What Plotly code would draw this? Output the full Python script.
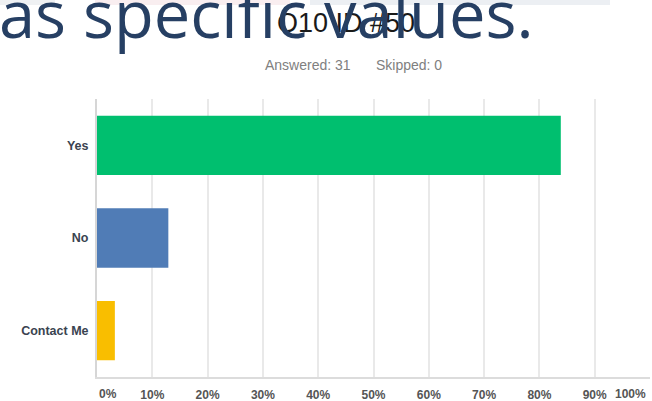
import plotly.graph_objects as go

categories = ["Yes", "No", "Contact Me"]
values = [83.87, 12.90, 3.23]
bar_colors = ["#00BF6F", "#507CB6", "#F9BE00"]
tick_values = [0, 10, 20, 30, 40, 50, 60, 70, 80, 90, 100]
tick_labels = ["0%", "10%", "20%", "30%", "40%", "50%", "60%", "70%", "80%", "90%", "100%"]
title_text = "Q10 ID #50"
answered_text = "Answered: 31"
skipped_text = "Skipped: 0"
overlay_text = "as specific values."

W, H = 652, 401
L, R, T, B = 97, 2, 99, 24
PW = W - L - R
PH = H - T - B


def px(x):
    return (x - L) / PW


def py(y):
    return (H - B - y) / PH


fig = go.Figure()
fig.add_trace(go.Bar(
    y=categories,
    x=values,
    orientation="h",
    marker=dict(color=bar_colors, line=dict(width=0)),
    hoverinfo="skip",
))

inner_text = ["" if v in (0, 100) else t for v, t in zip(tick_values, tick_labels)]
tick_font = dict(family="Liberation Sans", size=12, color="#555555", weight="bold")

fig.update_layout(
    width=W, height=H,
    margin=dict(l=L, r=R, t=T, b=B, autoexpand=False),
    paper_bgcolor="white",
    plot_bgcolor="white",
    showlegend=False,
    bargap=0.36,
    xaxis=dict(
        range=[0, 100],
        tickvals=tick_values,
        ticktext=inner_text,
        showgrid=True,
        gridcolor="#e9e9e9",
        gridwidth=1.5,
        zeroline=False,
        showline=True,
        linecolor="#dcdcdc",
        linewidth=2,
        ticks="",
        ticklabelstandoff=6,
        automargin=False,
        tickfont=tick_font,
        fixedrange=True,
    ),
    yaxis=dict(
        autorange="reversed",
        showgrid=False,
        zeroline=False,
        showline=True,
        linecolor="#d6d6d6",
        linewidth=2,
        ticks="",
        ticklabelstandoff=4,
        automargin=False,
        tickfont=dict(family="Liberation Sans", size=12.5, color="#3a4350", weight="bold"),
        fixedrange=True,
    ),
)

# end tick labels (left/right aligned as in the reference)
fig.add_annotation(x=0, xref="x", y=py(394), yref="paper", text=tick_labels[0],
                   xanchor="left", yanchor="middle", showarrow=False, font=tick_font)
fig.add_annotation(x=100, xref="x", y=py(394), yref="paper", text=tick_labels[-1],
                   xanchor="right", yanchor="middle", xshift=-2, showarrow=False,
                   font=tick_font)

# faint slide remnants at the very top
for x0, x1, col in [(0, 55, "#eff1f3"), (95, 290, "#f9eef0"), (310, 610, "#eceff3")]:
    fig.add_shape(type="rect", xref="paper", yref="paper",
                  x0=px(x0), x1=px(x1), y0=py(5), y1=py(0),
                  fillcolor=col, line=dict(width=0), layer="below")

# survey title and counts
fig.add_annotation(x=px(346), xref="paper", y=py(23), yref="paper", text=title_text,
                   xanchor="center", yanchor="middle", showarrow=False,
                   font=dict(family="Liberation Sans", size=27, color="#1a1a1a"))
fig.add_annotation(x=px(263), xref="paper", y=py(65), yref="paper", text=answered_text,
                   xanchor="left", yanchor="middle", showarrow=False,
                   font=dict(family="Liberation Sans", size=14, color="#808080"))
fig.add_annotation(x=px(444), xref="paper", y=py(65), yref="paper", text=skipped_text,
                   xanchor="right", yanchor="middle", showarrow=False,
                   font=dict(family="Liberation Sans", size=14, color="#808080"))

# overlaid slide text
fig.add_annotation(x=px(-3), xref="paper", y=py(13), yref="paper", text=overlay_text,
                   xanchor="left", yanchor="middle", showarrow=False,
                   font=dict(family="Open Sans", size=65, color="#263f63"))

fig.write_html("out.html", config={"displayModeBar": False},
               post_script="document.body.style.margin='0';")
